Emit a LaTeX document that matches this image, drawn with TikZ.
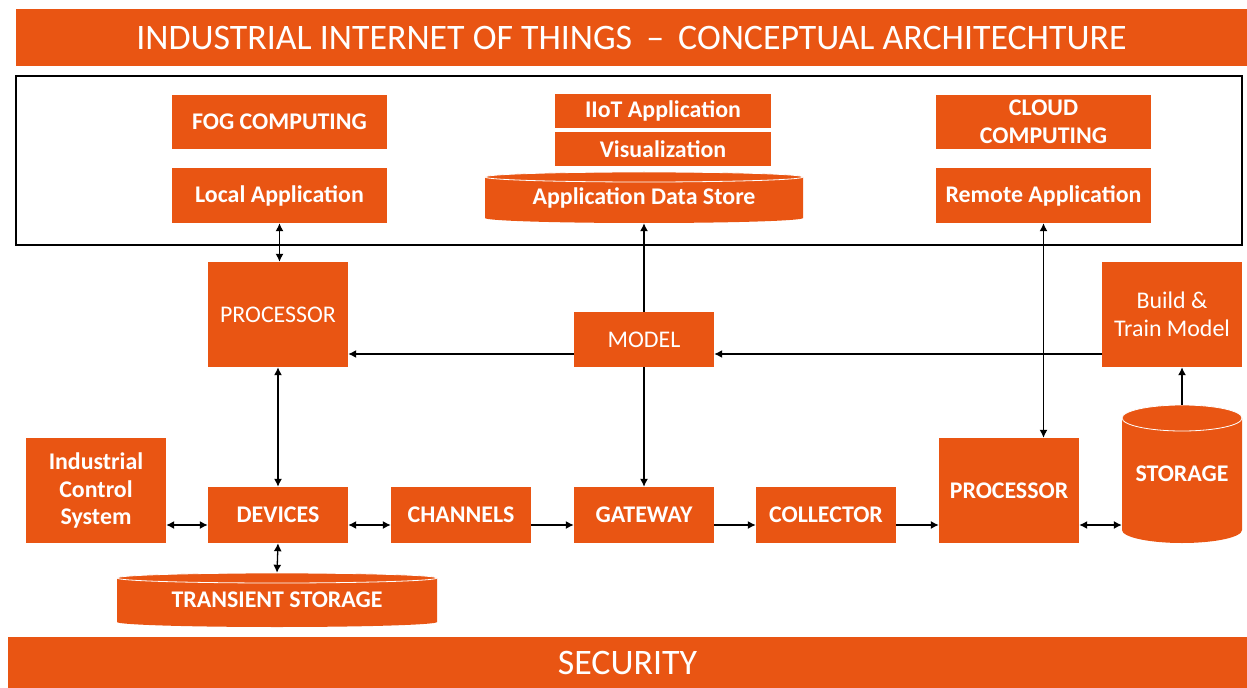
\documentclass[tikz,border=0pt]{standalone}
\usepackage{fontspec}
\setmainfont{Carlito}
\usetikzlibrary{arrows.meta}
\definecolor{iiotorange}{HTML}{E95513}
\tikzset{
  box/.style={fill=iiotorange, text=white, inner sep=0pt, align=center,
    font=\fontsize{24}{28}\selectfont},
  boldbox/.style={box, font=\fontsize{24}{28}\selectfont\bfseries},
  drumlabel/.style={text=white, inner sep=0pt, align=center,
    font=\fontsize{24}{28}\selectfont\bfseries},
  drum/.style={fill=iiotorange},
  drumtop/.style={draw=white, line width=0.8bp},
  link/.style={black, line width=1.3bp,
    {Latex[length=8bp,width=8bp]}-{Latex[length=8bp,width=8bp]}},
  onelink/.style={black, line width=1.3bp, -{Latex[length=8bp,width=8bp]}},
}
\begin{document}
\begin{tikzpicture}[x=1bp, y=-1bp]
\useasboundingbox (0,0) rectangle (1247,688);

\node[box, minimum width=1231bp, minimum height=57bp, font=\fontsize{36}{40}\selectfont] (title) at (631.5,37.5)
  {INDUSTRIAL INTERNET OF THINGS \,–\, CONCEPTUAL ARCHITECHTURE};
\node[box, minimum width=1239bp, minimum height=51bp, font=\fontsize{36}{40}\selectfont] (security) at (627.5,662.5) {SECURITY};

\draw[black, line width=1.5bp] (16,76) rectangle (1242,245);

\node[boldbox, minimum width=215bp, minimum height=54bp] (fog) at (279.5,122) {FOG COMPUTING};
\node[boldbox, minimum width=215bp, minimum height=55bp] (localapp) at (279.5,195.5) {Local Application};
\node[boldbox, minimum width=216bp, minimum height=34bp] (iiotapp) at (663,111) {IIoT Application};
\node[boldbox, minimum width=216bp, minimum height=34bp] (visual) at (663,149) {Visualization};
\node[boldbox, minimum width=215bp, minimum height=54bp] (cloud) at (1043.5,122) {CLOUD\\COMPUTING};
\node[boldbox, minimum width=215bp, minimum height=55bp] (remote) at (1043.5,195.5) {Remote Application};

\fill[drum] (485,177) -- (485,218) arc[start angle=180, end angle=0, x radius=159, y radius=5]
  -- (803,177) arc[start angle=0, end angle=-180, x radius=159, y radius=5] -- cycle;
\draw[drumtop] (644,177) ellipse[x radius=159, y radius=5];
\node[drumlabel, minimum width=318bp, minimum height=51bp] (ads) at (644,197.5) {Application Data Store};

\node[box, minimum width=140bp, minimum height=105bp] (procl) at (278,314.5) {PROCESSOR};
\node[box, minimum width=140bp, minimum height=55bp] (model) at (644,339.5) {MODEL};
\node[box, minimum width=140bp, minimum height=105bp] (build) at (1172,314.5) {Build \&\\Train Model};

\node[boldbox, minimum width=140bp, minimum height=105bp] (ics) at (96,490.5) {Industrial\\Control\\System};
\node[boldbox, minimum width=140bp, minimum height=56bp] (devices) at (278,515) {DEVICES};
\node[boldbox, minimum width=140bp, minimum height=56bp] (channels) at (461,515) {CHANNELS};
\node[boldbox, minimum width=140bp, minimum height=56bp] (gateway) at (644,515) {GATEWAY};
\node[boldbox, minimum width=140bp, minimum height=56bp] (collector) at (826,515) {COLLECTOR};
\node[boldbox, minimum width=140bp, minimum height=105bp] (procr) at (1009,490.5) {PROCESSOR};

\fill[drum] (1122,418) -- (1122,530) arc[start angle=180, end angle=0, x radius=60, y radius=13]
  -- (1242,418) arc[start angle=0, end angle=-180, x radius=60, y radius=13] -- cycle;
\draw[drumtop] (1182,418) ellipse[x radius=60, y radius=13];
\node[drumlabel, minimum width=120bp, minimum height=138bp] (storage) at (1182,474) {STORAGE};

\fill[drum] (117,578) -- (117,622) arc[start angle=180, end angle=0, x radius=160, y radius=5]
  -- (437,578) arc[start angle=0, end angle=-180, x radius=160, y radius=5] -- cycle;
\draw[drumtop] (277,578) ellipse[x radius=160, y radius=5];
\node[drumlabel, minimum width=320bp, minimum height=54bp] (transient) at (277,600) {TRANSIENT STORAGE};

\coordinate (mid) at (0,354);
\coordinate (row) at (0,525);

\draw[link] (localapp.south) -- (localapp.south |- procl.north);
\draw[link] (procl.south) -- (devices.north);
\draw[onelink] (model.west |- mid) -- (procl.east |- mid);
\draw[onelink] (build.west |- mid) -- (model.east |- mid);
\draw[onelink] (model.north) -- (ads.south);
\draw[onelink] (model.south) -- (gateway.north);
\draw[link] (remote.south) -- (remote.south |- procr.north);
\draw[onelink] (storage.north) -- (storage.north |- build.south);

\draw[link] (ics.east |- row) -- (devices.west |- row);
\draw[link] (devices.east |- row) -- (channels.west |- row);
\draw[onelink] (channels.east |- row) -- (gateway.west |- row);
\draw[onelink] (gateway.east |- row) -- (collector.west |- row);
\draw[onelink] (collector.east |- row) -- (procr.west |- row);
\draw[link] (procr.east |- row) -- (storage.west |- row);
\draw[link] (devices.south) -- (transient.north);
\end{tikzpicture}
\end{document}
